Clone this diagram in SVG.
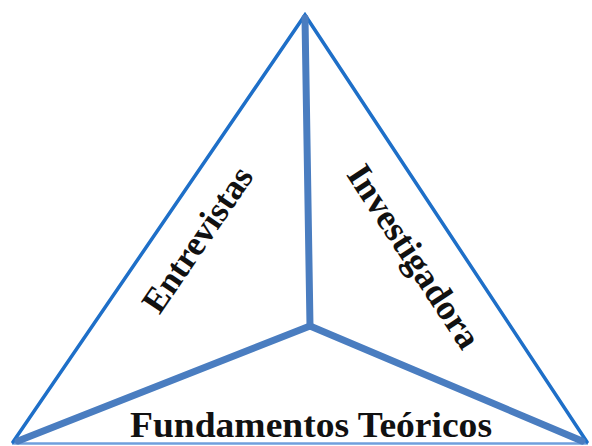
<svg xmlns="http://www.w3.org/2000/svg" width="592" height="446" viewBox="0 0 592 446">
<style>
.edge{stroke:#1e6fc8;stroke-width:3.5;fill:none;stroke-linecap:round}
.base{stroke:#6f9fdc;stroke-width:2.5;fill:none}
.spoke{stroke:#4a7dc0;stroke-width:7;fill:none;stroke-linecap:round;stroke-linejoin:round}
.lbl{font-family:"Liberation Serif","Times New Roman",serif;font-weight:bold;font-size:35px;fill:#111;text-anchor:middle}
</style>
<rect width="592" height="446" fill="#fff"/>
<g id="connectors">
<line class="base" x1="12" y1="443.5" x2="588" y2="443.5"/>
<polyline class="edge" points="13,442 305,15 587,442"/>
<line class="spoke" x1="305" y1="18" x2="310" y2="326"/>
<line class="spoke" x1="310" y1="326" x2="18" y2="441"/>
<line class="spoke" x1="310" y1="326" x2="582" y2="441"/>
</g>
<g id="entrevistas"><text class="lbl" transform="translate(207,246) rotate(-55.7)">Entrevistas</text></g>
<g id="investigadora"><text class="lbl" style="font-size:36px" transform="translate(404,263) rotate(56.6)">Investigadora</text></g>
<g id="fundamentos"><text class="lbl" x="311" y="437" textLength="362" lengthAdjust="spacingAndGlyphs">Fundamentos Teóricos</text></g>
</svg>
